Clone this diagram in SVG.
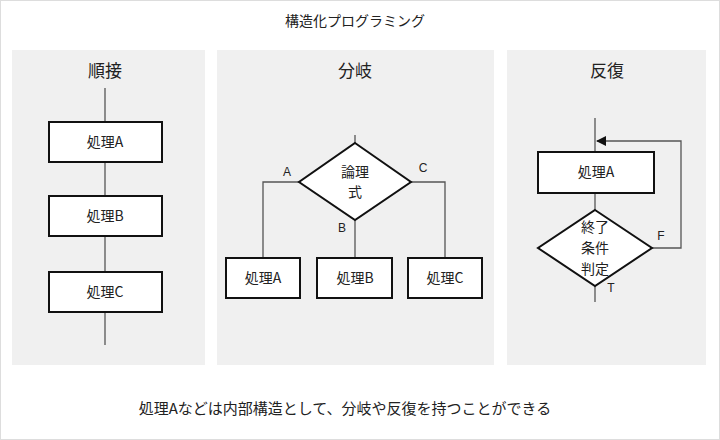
<svg xmlns="http://www.w3.org/2000/svg" width="720" height="440" viewBox="0 0 720 440">
<style>
text{font-family:"Noto Sans CJK JP","Liberation Sans",sans-serif;fill:#222;text-anchor:middle}
.p{fill:#f0f0f0}
.b{fill:#fff;stroke:#111;stroke-width:2}
.l{fill:none;stroke:#555;stroke-width:1.3}
.t{font-size:14px}
.c{font-size:15px}
.h{font-size:17px}
.s{font-size:12px;font-family:"Liberation Sans",sans-serif}
</style>
<defs><marker id="ar" markerWidth="10" markerHeight="10" refX="9" refY="5" orient="auto" markerUnits="userSpaceOnUse"><path d="M0,0 L10,5 L0,10 Z" fill="#111"/></marker></defs>
<rect x="0.5" y="0.5" width="719" height="439" fill="#fff" stroke="#ddd"/>
<text x="355" y="26" class="t">構造化プログラミング</text>
<rect class="p" x="12" y="50" width="193" height="315"/>
<rect class="p" x="217" y="50" width="277" height="315"/>
<rect class="p" x="507" y="50" width="199" height="315"/>
<text x="105" y="77" class="h">順接</text>
<text x="355" y="77" class="h">分岐</text>
<text x="607" y="77" class="h">反復</text>
<g id="connectors">
<line class="l" x1="105" y1="88" x2="105" y2="345"/>
<line class="l" x1="355" y1="135" x2="355" y2="143"/>
<polyline class="l" points="299,182 263,182 263,258"/>
<line class="l" x1="355" y1="220" x2="355" y2="258"/>
<polyline class="l" points="411,182 445,182 445,258"/>
<line class="l" x1="595" y1="118" x2="595" y2="210"/>
<line class="l" x1="595" y1="286" x2="595" y2="302"/>
<polyline class="l" points="652,248 681,248 681,141 597,141" marker-end="url(#ar)"/>
</g>
<g id="seqA"><rect class="b" x="49" y="122" width="113" height="40"/><text x="105" y="147" class="t">処理A</text></g>
<g id="seqB"><rect class="b" x="49" y="196" width="113" height="40"/><text x="105" y="221" class="t">処理B</text></g>
<g id="seqC"><rect class="b" x="49" y="272" width="113" height="40"/><text x="105" y="297" class="t">処理C</text></g>
<g id="cond"><polygon class="b" points="355,143 411,182 355,220 299,182"/><text x="355" y="177" class="t">論理</text><text x="355" y="197" class="t">式</text></g>
<g id="labels"><text x="287" y="176" class="s">A</text><text x="423" y="172" class="s">C</text><text x="342" y="232" class="s">B</text><text x="661" y="240" class="s">F</text><text x="611" y="292" class="s">T</text></g>
<g id="brA"><rect class="b" x="226" y="258" width="74" height="40"/><text x="263" y="283" class="t">処理A</text></g>
<g id="brB"><rect class="b" x="317" y="258" width="75" height="40"/><text x="355" y="283" class="t">処理B</text></g>
<g id="brC"><rect class="b" x="408" y="258" width="74" height="40"/><text x="445" y="283" class="t">処理C</text></g>
<g id="loopA"><rect class="b" x="538" y="152" width="116" height="41"/><text x="596" y="177" class="t">処理A</text></g>
<g id="loopCond"><polygon class="b" points="595,210 652,248 595,286 538,248"/><text x="595" y="232" class="t">終了</text><text x="595" y="253" class="t">条件</text><text x="595" y="274" class="t">判定</text></g>
<text x="345" y="414" class="c">処理Aなどは内部構造として、分岐や反復を持つことができる</text>
</svg>
